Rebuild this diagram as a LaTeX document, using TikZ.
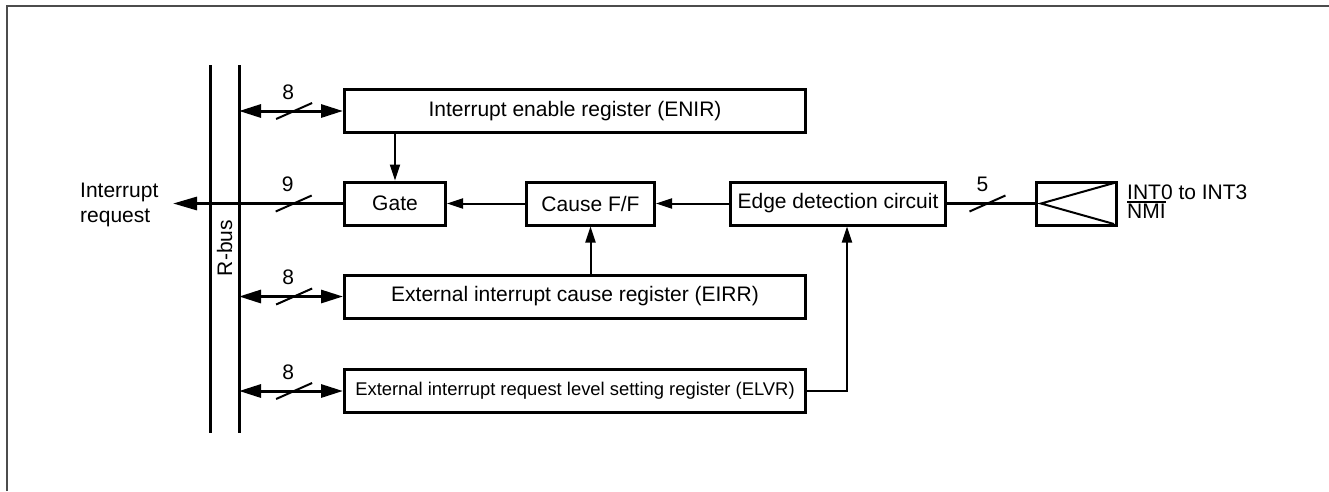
\documentclass[tikz,border=0pt]{standalone}
\usepackage{fontspec}
\setmainfont{Liberation Sans}
\usetikzlibrary{arrows.meta}
\begin{document}
\begin{tikzpicture}[x=1pt,y=-1pt,
  box/.style={draw,line width=3pt,inner sep=0pt,minimum height=43pt,font=\fontsize{21}{25}\selectfont},
  heavy/.style={line width=3pt},
  bidir/.style={heavy,{Triangle[length=22pt,width=13pt]}-{Triangle[length=22pt,width=13pt]}},
  conn/.style={line width=2pt,-{Triangle[length=16pt,width=10pt]}},
  slashmark/.style={line width=2pt},
  num/.style={font=\fontsize{21}{25}\selectfont,inner sep=0pt},
  txt/.style={font=\fontsize{21}{25}\selectfont,inner sep=0pt},
  busline/.style={line width=3pt},
  framel/.style={line width=2pt,black!70}]
\useasboundingbox (0,0) rectangle (1329,491);
% partial frame
\draw[framel] (7,491) -- (7,6) -- (1329,6);
% R-bus
\coordinate (b1t) at (210,65);
\coordinate (b1b) at (210,433);
\coordinate (b2t) at (239,65);
\coordinate (b2b) at (239,433);
\draw[busline] (b1t) -- (b1b);
\draw[busline] (b2t) -- (b2b);
\node[txt,rotate=90] (rbus) at (224.5,248) {R-bus};
% boxes
\node[box,minimum width=461pt] (enir) at (575,111) {Interrupt enable register (ENIR)};
\node[box,minimum width=101pt] (gate) at (395,203.5) {Gate};
\node[box,minimum width=128pt] (cause) at (590.5,203.5) {Cause F/F};
\node[box,minimum width=215pt] (edge) at (838,203.5) {Edge detection circuit};
\node[box,minimum width=461pt] (eirr) at (575,296.5) {External interrupt cause register (EIRR)};
\node[box,minimum width=461pt,font=\fontsize{18.4}{22}\selectfont] (elvr) at (575,391) {External interrupt request level setting register (ELVR)};
\node[box,minimum width=80pt] (inp) at (1076.5,203.5) {};
\draw[line width=2pt] ([shift={(-4,2.5)}]inp.north east) -- ([xshift=6pt]inp.west) -- ([shift={(-4,-2.5)}]inp.south east);
% bus connections
\draw[bidir] (b2t |- enir.west) -- coordinate[pos=0.53] (s1) (enir.west);
\draw[slashmark] ([shift={(-18,8)}]s1) -- ([shift={(18,-8)}]s1);
\node[num] (n1) at ([shift={(-6,-19)}]s1) {8};
\draw[bidir] (b2t |- eirr.west) -- coordinate[pos=0.53] (s3) (eirr.west);
\draw[slashmark] ([shift={(-18,8)}]s3) -- ([shift={(18,-8)}]s3);
\node[num] (n3) at ([shift={(-6,-19)}]s3) {8};
\draw[bidir] (b2t |- elvr.west) -- coordinate[pos=0.53] (s4) (elvr.west);
\draw[slashmark] ([shift={(-18,8)}]s4) -- ([shift={(18,-8)}]s4);
\node[num] (n4) at ([shift={(-6,-19)}]s4) {8};
% interrupt request
\coordinate (irq) at (173,203.5);
\draw[heavy,-{Triangle[length=24pt,width=13pt]}] (gate.west) -- coordinate[pos=0.29] (s2) (irq);
\draw[slashmark] ([shift={(-18,8)}]s2) -- ([shift={(18,-8)}]s2);
\node[num] (n2) at ([shift={(-6,-19)}]s2) {9};
\node[txt,anchor=base west] (irq1) at (80,197) {Interrupt};
\node[txt,anchor=base west] (irq2) at (80,222) {request};
% internal connectors
\draw[conn] (gate.north |- enir.south) -- (gate.north);
\draw[conn] (cause.west) -- (gate.east);
\draw[conn] (edge.west) -- (cause.east);
\draw[conn] (cause.south |- eirr.north) -- (cause.south);
\draw[conn] (elvr.east) -| ([xshift=9pt]edge.south);
% input
\draw[heavy] (edge.east) -- coordinate[pos=0.46] (s5) (inp.west);
\draw[slashmark] ([shift={(-18,8)}]s5) -- ([shift={(18,-8)}]s5);
\node[num] (n5) at ([shift={(-5,-19)}]s5) {5};
\node[txt,anchor=base west] (int) at (1127,199) {INT0 to INT3};
\node[txt,anchor=base west] (nmi) at (1127,218.5) {\vbox{\hrule height 1.8pt\kern1.5pt\hbox{NMI}}};
\end{tikzpicture}
\end{document}
